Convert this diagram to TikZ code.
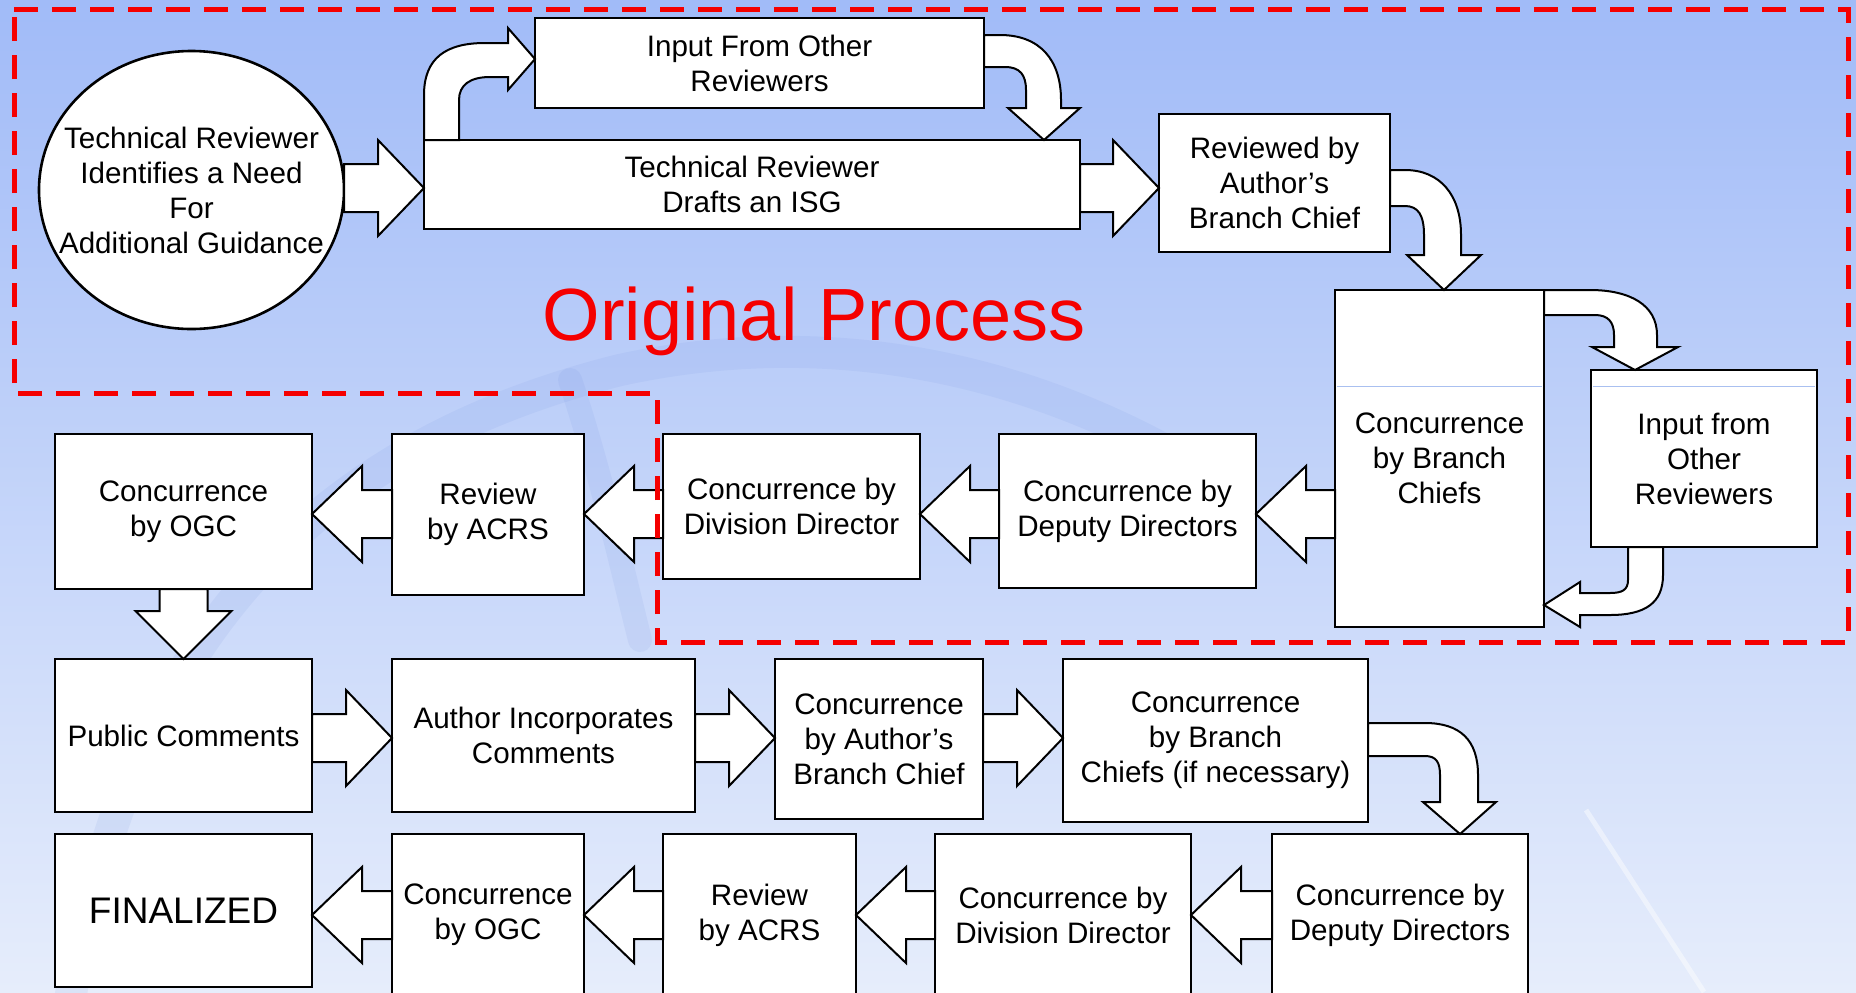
\documentclass[tikz,border=0pt]{standalone}
\usepackage{fontspec}
\setmainfont{Liberation Sans}
\usetikzlibrary{calc,shapes.geometric}
\definecolor{bgtop}{RGB}{161,187,248}
\definecolor{bgmid}{RGB}{190,208,249}
\definecolor{bgbot}{RGB}{230,237,251}
\definecolor{swoosh}{RGB}{110,140,220}
\definecolor{dashred}{RGB}{245,0,0}
\definecolor{faintline}{RGB}{170,192,240}
\newcommand\boxat[6]{\node[box, minimum width={(#4-#2)*0.5pt}, minimum height={(#5-#3)*0.5pt}] (#1) at ({(#2+#4)/2},{(#3+#5)/2}) {#6};}
% right block arrow from node #1 to node #2 at level #3
\newcommand\rarr[3]{\draw[barrow] ($(#1.east|-#3)+(0,-24)$) -- ($(#2.west|-#3)+(-46,-24)$) -- ($(#2.west|-#3)+(-46,-48)$) -- (#2.west|-#3) -- ($(#2.west|-#3)+(-46,48)$) -- ($(#2.west|-#3)+(-46,24)$) -- ($(#1.east|-#3)+(0,24)$) -- cycle;}
% left block arrow from node #1 to node #2 at level #3
\newcommand\larr[3]{\draw[barrow] ($(#1.west|-#3)+(0,-24)$) -- ($(#2.east|-#3)+(50,-24)$) -- ($(#2.east|-#3)+(50,-48)$) -- (#2.east|-#3) -- ($(#2.east|-#3)+(50,48)$) -- ($(#2.east|-#3)+(50,24)$) -- ($(#1.west|-#3)+(0,24)$) -- cycle;}
\begin{document}
\begin{tikzpicture}[x=0.5pt,y=-0.5pt,
  box/.style={draw=black, fill=white, line width=1.3pt, inner sep=0pt, outer sep=0pt, align=center, font=\fontsize{14.8}{17.5}\selectfont},
  txt/.style={align=center, inner sep=0pt, font=\fontsize{14.8}{17.5}\selectfont},
  barrow/.style={draw=black, fill=white, line width=1pt, line join=miter},
  faint/.style={draw=faintline, line width=0.5pt}]
\useasboundingbox (0,0) rectangle (1856,992);
\clip (0,0) rectangle (1856,992);
\shade[top color=bgtop, middle color=bgmid, bottom color=bgbot] (0,0) rectangle (1856,992);
% faint background swooshes
\draw[swoosh, opacity=0.10, line width=16pt, line cap=round] (70,1000) .. controls (120,700) and (260,460) .. (620,370) .. controls (850,320) and (1050,380) .. (1200,470);
\draw[swoosh, opacity=0.10, line width=12pt, line cap=round] (570,380) .. controls (600,470) and (620,560) .. (640,640);
\draw[white, opacity=0.45, line width=2.5pt] (1586,810) -- (1704,992);

% levels
\coordinate (L1) at (0,188);
\coordinate (L2) at (0,514);
\coordinate (L3) at (0,738);
\coordinate (L4) at (0,915);
\coordinate (Lf) at (0,386);

% row 1
\node[ellipse, draw=black, fill=white, line width=1.3pt, inner sep=0pt, outer sep=0pt, minimum width=152.5pt, minimum height=139pt] (ell) at (191.5,190) {};
\node[txt] (ellt) at (ell.center) {Technical Reviewer\\Identifies a Need\\For\\Additional Guidance};
\boxat{input1}{535}{18}{984}{108}{Input From Other\\Reviewers}
\boxat{drafts}{424}{140}{1080}{229}{Technical Reviewer\\Drafts an ISG}
\boxat{rev}{1159}{114}{1390}{252}{Reviewed by\\Author’s\\Branch Chief}
\boxat{cbc}{1335}{290}{1544}{627}{Concurrence\\by Branch\\Chiefs}
\boxat{input2}{1591}{370}{1817}{547}{Input from\\Other\\Reviewers}
\draw[faint] ($(cbc.west|-Lf)+(2,0)$) -- ($(cbc.east|-Lf)+(-2,0)$);
\draw[faint] ($(input2.west|-Lf)+(2,0)$) -- ($(input2.east|-Lf)+(-2,0)$);

% row 2
\boxat{ogc1}{55}{434}{312}{589}{Concurrence\\by OGC}
\boxat{acrs1}{392}{434}{584}{595}{Review\\by ACRS}
\boxat{dd1}{663}{434}{920}{579}{Concurrence by\\Division Director}
\boxat{dep1}{999}{434}{1256}{588}{Concurrence by\\Deputy Directors}

% row 3
\boxat{pub}{55}{659}{312}{812}{Public Comments}
\boxat{auth}{392}{659}{695}{812}{Author Incorporates\\Comments}
\boxat{cab}{775}{659}{983}{819}{Concurrence\\by Author’s\\Branch Chief}
\boxat{cbc2}{1063}{659}{1368}{822}{Concurrence\\by Branch\\Chiefs (if necessary)}

% row 4
\boxat{fin}{55}{834}{312}{987}{\fontsize{18.5}{22}\selectfont FINALIZED}
\boxat{ogc2}{392}{834}{584}{996}{Concurrence\\by OGC}
\boxat{acrs2}{663}{834}{856}{996}{Review\\by ACRS}
\boxat{dd2}{935}{834}{1191}{996}{Concurrence by\\Division Director}
\boxat{dep2}{1272}{834}{1528}{996}{Concurrence by\\Deputy Directors}

% straight arrows
\rarr{ell}{drafts}{L1}
\rarr{drafts}{rev}{L1}
\larr{cbc}{dep1}{L2}
\larr{dep1}{dd1}{L2}
\larr{dd1}{acrs1}{L2}
\larr{acrs1}{ogc1}{L2}
\draw[barrow] ($(ogc1.south)+(-24,0)$) -- ($(pub.north)+(-24,-48)$) -- ($(pub.north)+(-48,-48)$) -- (pub.north) -- ($(pub.north)+(48,-48)$) -- ($(pub.north)+(24,-48)$) -- ($(ogc1.south)+(24,0)$) -- cycle;
\rarr{pub}{auth}{L3}
\rarr{auth}{cab}{L3}
\rarr{cab}{cbc2}{L3}
\larr{dep2}{dd2}{L4}
\larr{dd2}{acrs2}{L4}
\larr{acrs2}{ogc2}{L4}
\larr{ogc2}{fin}{L4}

% curved arrows
\draw[barrow] (drafts.north west) -- (424,95) .. controls (424,58) and (446,43) .. (485,43) -- (508,43) -- (508,28) -- (input1.west|-0,59) -- (508,90) -- (508,77) -- (490,77) .. controls (470,77) and (459,85) .. (459,100) -- (459,140) -- cycle;
\draw[barrow] (input1.east|-0,35) -- (1000,35) .. controls (1040,35) and (1061,60) .. (1061,100) -- (1061,108) -- (1080,108) -- (drafts.north-|1044,0) -- (1008,108) -- (1026,108) -- (1026,90) .. controls (1026,75) and (1020,67) .. (1005,67) -- (input1.east|-0,67) -- cycle;
\draw[barrow] (rev.east|-0,170) -- (1405,170) .. controls (1440,170) and (1461,195) .. (1461,235) -- (1461,255) -- (1481,255) -- (cbc.north-|1444,0) -- (1407,255) -- (1424,255) -- (1424,235) .. controls (1424,215) and (1418,206) .. (1405,206) -- (rev.east|-0,206) -- cycle;
\draw[barrow] (cbc.north east) -- (1590,290) .. controls (1630,290) and (1657,305) .. (1657,335) -- (1657,347) -- (1678,347) -- (input2.north-|1635,0) -- (1592,347) -- (1614,347) -- (1614,335) .. controls (1614,322) and (1608,315) .. (1595,315) -- (cbc.east|-0,315) -- cycle;
\draw[barrow] (input2.south-|1663,0) -- (1663,575) .. controls (1663,603) and (1645,615) .. (1610,615) -- (1580,615) -- (1580,627) -- (cbc.east|-0,605) -- (1580,582) -- (1580,593) -- (1610,593) .. controls (1622,593) and (1628,590) .. (1628,580) -- (input2.south-|1628,0) -- cycle;
\draw[barrow] (cbc2.east|-0,723) -- (1425,723) .. controls (1460,723) and (1478,740) .. (1478,775) -- (1478,802) -- (1496,802) -- (dep2.north-|1460,0) -- (1423,802) -- (1440,802) -- (1440,775) .. controls (1440,762) and (1436,756) .. (1425,756) -- (cbc2.east|-0,756) -- cycle;

% original process region
\node[text=dashred, font=\fontsize{37}{40}\selectfont, anchor=base, inner sep=0pt] (title) at (814,340) {Original Process};
\draw[dashred, line width=2.5pt, dash pattern=on 12pt off 7pt] (14,9) -- (1848,9) -- (1848,642) -- (657,642) -- (657,393) -- (14,393) -- cycle;
\end{tikzpicture}
\end{document}
